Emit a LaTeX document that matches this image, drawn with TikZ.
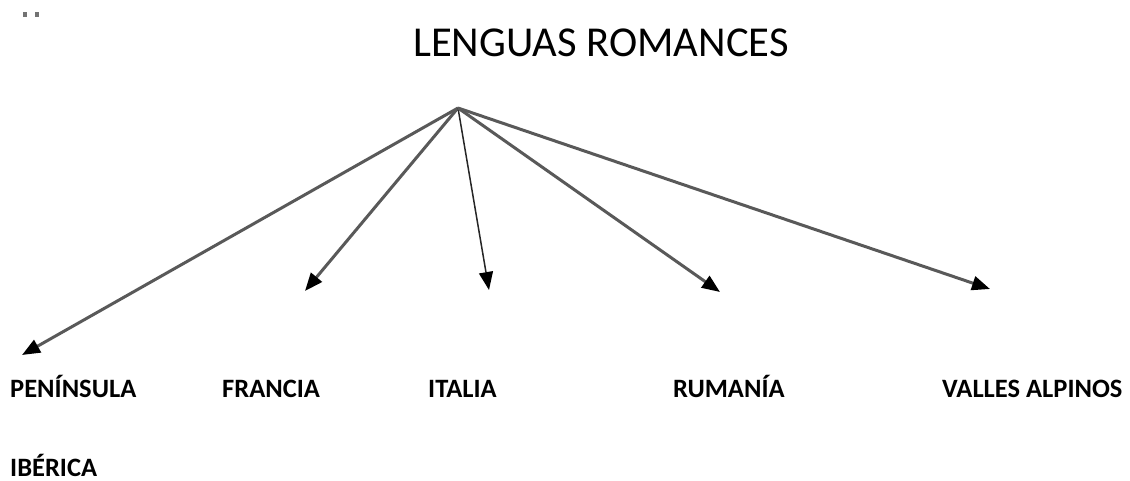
\documentclass[tikz,border=0pt]{standalone}
\usepackage{fontspec}
\setmainfont{Carlito}
\usetikzlibrary{arrows.meta}
\tikzset{
  tip/.style={-{Triangle[length=18pt,width=14pt,color=black]}},
  branch/.style={draw=black!65, line width=3pt, tip},
  thinbranch/.style={draw=black!85, line width=1.5pt, tip},
  lbl/.style={anchor=base west, inner sep=0pt, text depth=0pt, font=\fontsize{26.5}{32}\selectfont\bfseries},
  ttl/.style={anchor=base west, inner sep=0pt, font=\fontsize{42.6}{50}\selectfont},
  dot/.style={fill=black!55, draw=none}
}
\begin{document}
\begin{tikzpicture}[x=1pt,y=-1pt]
\useasboundingbox (0,0) rectangle (1130,481);
\fill[dot] (23,12) rectangle (27,17);
\fill[dot] (35,12) rectangle (39,17);
\node[ttl] (title) at (413,57) {LENGUAS ROMANCES};
\coordinate (o) at (458,108);
\coordinate (tp) at (22,355);
\coordinate (tf) at (305,291);
\coordinate (ti) at (489,290);
\coordinate (tr) at (720,292);
\coordinate (tv) at (990,289);
\draw[branch] (o) -- (tp);
\draw[branch] (o) -- (tf);
\draw[thinbranch] (o) -- (ti);
\draw[branch] (o) -- (tr);
\draw[branch] (o) -- (tv);
\node[lbl] (pen) at (10,397) {PENÍNSULA};
\node[lbl] (ibe) at (10,476) {IBÉRICA};
\node[lbl] (fra) at (222,397) {FRANCIA};
\node[lbl] (ita) at (428,397) {ITALIA};
\node[lbl] (rum) at (673,397) {RUMANÍA};
\node[lbl] (val) at (942,397) {VALLES ALPINOS};
\end{tikzpicture}
\end{document}
